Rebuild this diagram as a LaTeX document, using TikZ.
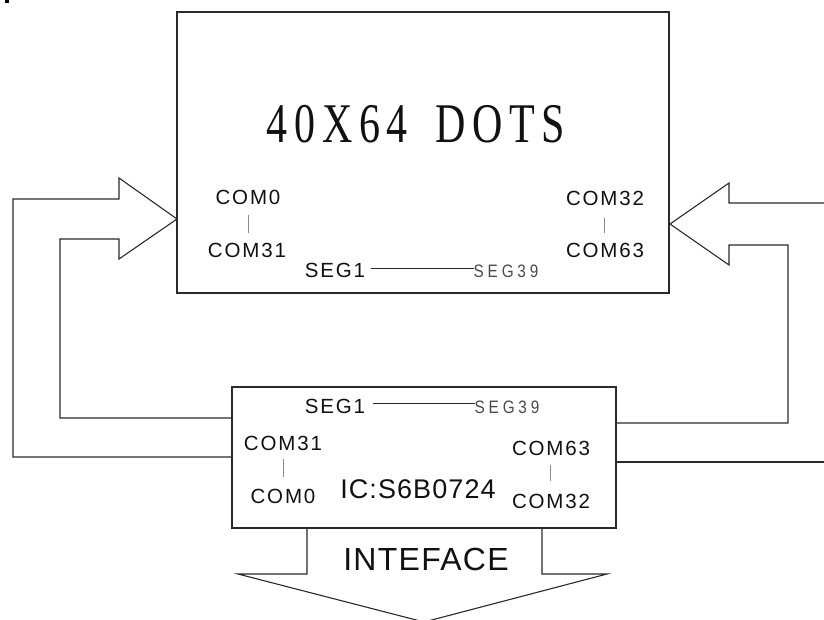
\documentclass[tikz,border=0pt]{standalone}
\usepackage{fontspec}
\setmainfont{Liberation Sans}
\newfontfamily\labelfont[LetterSpace=9]{Liberation Sans}
\newfontfamily\seglight[LetterSpace=25]{Liberation Sans}
\newfontfamily\chipfont[LetterSpace=4]{Liberation Sans}
\newfontfamily\titlefont[LetterSpace=16]{Liberation Serif}
\definecolor{ink}{HTML}{2A2A2A}
\definecolor{txt}{HTML}{111111}
\definecolor{bar}{HTML}{8A8A8A}
\definecolor{thin}{HTML}{4A4A4A}
\begin{document}
\begin{tikzpicture}[x=1pt,y=-1pt,
  outline/.style={draw=ink,line width=1.1pt,line join=miter},
  box/.style={outline,rectangle,inner sep=0pt},
  pin/.style={inner sep=0pt,anchor=base,text=txt,font=\labelfont\fontsize{20.5}{21}\selectfont},
  pinlight/.style={inner sep=0pt,anchor=base,text=thin,xscale=0.85,font=\seglight\fontsize{18}{18}\selectfont},
  comspan/.style={draw=bar,line width=0.8pt},
  segline/.style={draw=ink,line width=0.9pt}]
\useasboundingbox (0,0) rectangle (824,619);
% stray mark at the corner
\fill[black] (5,0) rectangle (9,3);

% display panel and driver chip
\node[box,minimum width=492pt,minimum height=281pt] (panel) at (423,152.5) {};
\node[box,minimum width=384pt,minimum height=141pt] (chip) at (424,457.5) {};

% anchors for the hollow arrows
\coordinate (ltip) at (177,219);
\coordinate (rtip) at (670,224);
\coordinate (chipLo) at (232,457);
\coordinate (chipLi) at (232,418);
\coordinate (chipRi) at (616,423);
\coordinate (chipRo) at (616,462);
\coordinate (edgeRt) at (824,203);
\coordinate (edgeRb) at (824,462);

% left bus: chip -> COM0..COM31 side of the panel
\draw[outline] (chipLo) -- (13,457) -- (13,199) -- (119,199) -- (119,178)
  -- (ltip) -- (119,259) -- (119,239) -- (60,239) -- (60,418) -- (chipLi);

% right bus: chip -> COM32..COM63 side of the panel
\draw[outline] (edgeRt) -- (729,203) -- (729,183) -- (rtip) -- (729,265)
  -- (729,245) -- (788,245) -- (788,423) -- (chipRi);
\draw[outline] (chipRo) -- (edgeRb);
\draw[draw=ink,line width=2pt] (chipRi) -- (chipRo);

% interface arrow below the chip
\draw[outline] (chip.south -| 307,0) -- (307,574) -- (238,574) -- (424,622)
  -- (607,574) -- (542,574) -- (chip.south -| 542,0);

% panel title
\node[inner sep=0pt,anchor=base,text=txt,xscale=0.75,
  font=\titlefont\fontsize{56}{56}\selectfont] (title) at (416,142) {40X64\hspace{14pt} DOTS};

% panel pins
\node[pin] (pc0) at (248,204) {COM0};
\node[pin] (pc31) at (247,257) {COM31};
\draw[comspan] (pc0.south) ++(0,11) -- ++(0,18);
\node[pin] (pc32) at (605,205) {COM32};
\node[pin] (pc63) at (605,257) {COM63};
\draw[comspan] (pc32.south) ++(-1,13) -- ++(0,15);
\node[pin] (ps1) at (335,277) {SEG1};
\node[pinlight] (ps39) at (506,277) {SEG39};
\draw[segline] (ps1.east |- 0,268) ++(6,0) -- (ps39.west |- 0,268);

% chip pins
\node[pin] (cs1) at (335,413) {SEG1};
\node[pinlight] (cs39) at (507,413) {SEG39};
\draw[segline] (cs1.east |- 0,403) ++(8,0) -- (cs39.west |- 0,403);
\node[pin] (cc31) at (283,450) {COM31};
\node[pin] (cc0) at (283,503) {COM0};
\draw[comspan] (cc31.south) ++(0,9) -- ++(0,18);
\node[pin] (cc63) at (551,455) {COM63};
\node[pin] (cc32) at (551,508) {COM32};
\draw[comspan] (cc63.south) ++(-1,10) -- ++(0,16);
\node[inner sep=0pt,anchor=base,text=txt,
  font=\chipfont\fontsize{27}{27}\selectfont] (ic) at (418,498) {IC:S6B0724};
\node[inner sep=0pt,anchor=base,text=txt,
  font=\chipfont\fontsize{32}{32}\selectfont] (iface) at (426,570) {INTEFACE};
\end{tikzpicture}
\end{document}
